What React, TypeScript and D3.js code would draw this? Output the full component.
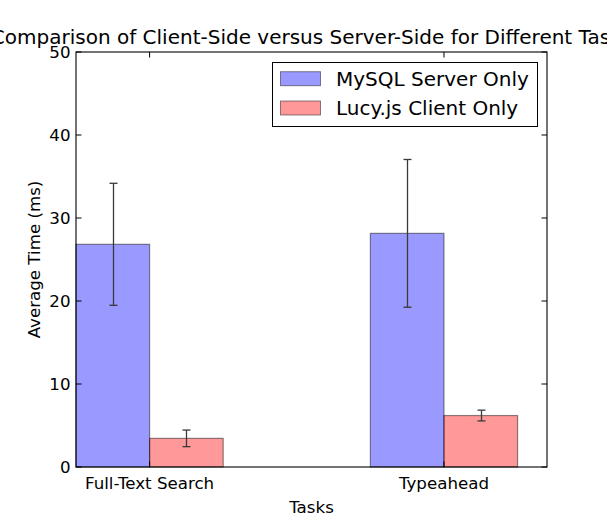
import React from "react";
import * as d3 from "d3";

const categories = ["Full-Text Search", "Typeahead"];
const seriesNames = ["MySQL Server Only", "Lucy.js Client Only"];
const mysqlValues = [26.83, 28.15];
const mysqlErrors = [7.35, 8.9];
const lucyValues = [3.45, 6.2];
const lucyErrors = [1.0, 0.65];
const yTicks = [0, 10, 20, 30, 40, 50];

const W = 607;
const H = 520;
const M = { left: 76, right: 547, top: 52, bottom: 467 };
const barWidth = 0.25;
const FONT = "DejaVu Sans, sans-serif";
const SMALL = 16.67;
const LARGE = 20;

export default function App() {
  const x = d3.scaleLinear().domain([0, 1.6]).range([M.left, M.right]);
  const y = d3.scaleLinear().domain([0, 50]).range([M.bottom, M.top]);
  const ind = categories.map((_, i) => i);
  const series = [
    { name: seriesNames[0], values: mysqlValues, errors: mysqlErrors, color: "blue", offset: 0 },
    { name: seriesNames[1], values: lucyValues, errors: lucyErrors, color: "red", offset: barWidth },
  ];
  const tickLen = 5.5;
  const cap = 4;
  return (
    <svg width={W} height={H} style={{ position: "absolute", left: 0, top: 0 }} fontFamily={FONT}>
      <rect x={0} y={0} width={W} height={H} fill="white" />
      {series.map((s) =>
        ind.map((i) => {
          const x0 = x(i + s.offset);
          const x1 = x(i + s.offset + barWidth);
          return (
            <rect
              key={s.name + i}
              x={x0}
              y={y(s.values[i])}
              width={x1 - x0}
              height={y(0) - y(s.values[i])}
              fill={s.color}
              fillOpacity={0.4}
              stroke="black"
              strokeOpacity={0.45}
              strokeWidth={1.2}
            />
          );
        })
      )}
      {series.map((s) =>
        ind.map((i) => {
          const cx = Math.round(x(i + s.offset + barWidth / 2)) + 0.5;
          const top = y(s.values[i] + s.errors[i]);
          const bot = y(s.values[i] - s.errors[i]);
          return (
            <g key={"e" + s.name + i} stroke="#3a3a3a" strokeWidth={1.3}>
              <line x1={cx} x2={cx} y1={top} y2={bot} />
              <line x1={cx - cap} x2={cx + cap} y1={top} y2={top} />
              <line x1={cx - cap} x2={cx + cap} y1={bot} y2={bot} />
            </g>
          );
        })
      )}
      {yTicks.map((t) => (
        <g key={"yt" + t}>
          <line x1={M.left} x2={M.left + tickLen} y1={y(t)} y2={y(t)} stroke="black" />
          <line x1={M.right - tickLen} x2={M.right} y1={y(t)} y2={y(t)} stroke="black" />
          <text x={M.left - 5.5} y={y(t)} dy="0.36em" textAnchor="end" fontSize={SMALL}>
            {t}
          </text>
        </g>
      ))}
      {ind.map((i) => {
        const cx = x(i + barWidth);
        return (
          <g key={"xt" + i}>
            <line x1={cx} x2={cx} y1={M.bottom} y2={M.bottom - tickLen} stroke="black" />
            <line x1={cx} x2={cx} y1={M.top} y2={M.top + tickLen} stroke="black" />
            <text x={cx} y={488.5} textAnchor="middle" fontSize={SMALL}>
              {categories[i]}
            </text>
          </g>
        );
      })}
      <rect
        x={M.left}
        y={M.top}
        width={M.right - M.left}
        height={M.bottom - M.top}
        fill="none"
        stroke="black"
        strokeWidth={1.1}
      />
      <text x={(M.left + M.right) / 2} y={512.5} textAnchor="middle" fontSize={SMALL}>
        Tasks
      </text>
      <text
        transform={`translate(40, ${(M.top + M.bottom) / 2}) rotate(-90)`}
        textAnchor="middle"
        fontSize={SMALL}
      >
        Average Time (ms)
      </text>
      <text x={(M.left + M.right) / 2} y={44} textAnchor="middle" fontSize={LARGE}>
        Comparison of Client-Side versus Server-Side for Different Tasks
      </text>
      <g>
        <rect x={272.5} y={62.5} width={265} height={64} fill="white" stroke="black" strokeWidth={1} />
        {series.map((s, k) => {
          const cy = 78.7 + k * 29.3;
          return (
            <g key={"lg" + k}>
              <rect
                x={280.5}
                y={cy - 7}
                width={40}
                height={14}
                fill={s.color}
                fillOpacity={0.4}
                stroke="black"
                strokeOpacity={0.45}
              />
              <text x={336} y={cy} dy="0.36em" fontSize={LARGE}>
                {s.name}
              </text>
            </g>
          );
        })}
      </g>
    </svg>
  );
}
